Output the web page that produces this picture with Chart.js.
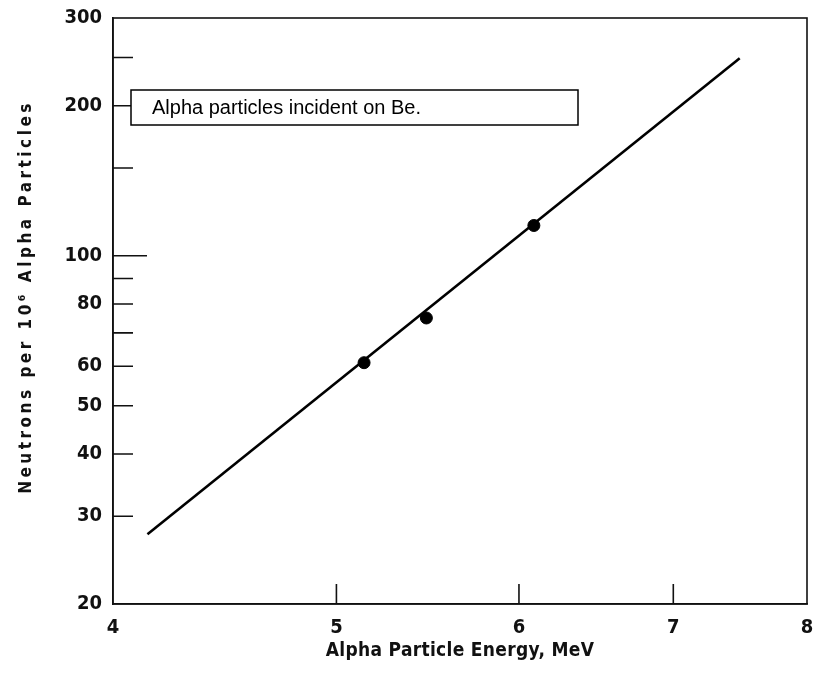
<!DOCTYPE html>
<html>
<head>
<meta charset="utf-8">
<script src="https://cdn.jsdelivr.net/npm/chart.js@4.4.1/dist/chart.umd.min.js"></script>
<style>
  html, body { margin: 0; padding: 0; background: #fff; overflow: hidden; }
</style>
</head>
<body>
<canvas id="chart" width="814" height="673"></canvas>
<script>
// measured points (alpha energy MeV, neutrons per 10^6 alphas)
const energies = [5.14, 5.47, 6.09];
const yields = [61, 75, 115];
// fitted straight line end points
const fitEnergies = [4.14, 7.48];
const fitYields = [27.6, 249];

const xTicks = [4, 5, 6, 7, 8];
const xMarks = [5, 6, 7];
const yTicks = [20, 30, 40, 50, 60, 80, 100, 200, 300];
const yMarks = [30, 40, 50, 60, 70, 80, 90, 100, 150, 200, 250];
const xTitle = "Alpha Particle Energy, MeV";
const yTitle = "Neutrons per 10\u2076 Alpha Particles";
const note = "Alpha particles incident on Be.";

const labelFont = "'DejaVu Sans Condensed', 'DejaVu Sans', sans-serif";

// inner tick marks, frame, axis titles and the note box
const extras = {
  id: "extras",
  afterDraw(chart) {
    const ctx = chart.ctx;
    const a = chart.chartArea;
    const x = chart.scales.x, y = chart.scales.y;
    ctx.save();
    ctx.strokeStyle = "#111";
    ctx.lineWidth = 1.6;
    ctx.strokeRect(a.left, a.top, a.right - a.left, a.bottom - a.top);
    ctx.beginPath();
    yMarks.forEach(v => {
      const py = y.getPixelForValue(v);
      const len = v === 100 ? 34 : 20;
      ctx.moveTo(a.left, py);
      ctx.lineTo(a.left + len, py);
    });
    xMarks.forEach(v => {
      const px = x.getPixelForValue(v);
      ctx.moveTo(px, a.bottom);
      ctx.lineTo(px, a.bottom - 20);
    });
    ctx.stroke();

    // axis titles, spaced out like the original
    ctx.fillStyle = "#111";
    ctx.textAlign = "center";
    ctx.textBaseline = "middle";
    ctx.font = "bold 19px " + labelFont;
    ctx.letterSpacing = "0.3px";
    ctx.fillText(xTitle, 460, 651);
    ctx.save();
    ctx.translate(27, 297);
    ctx.rotate(-Math.PI / 2);
    ctx.font = "bold 17px " + labelFont;
    ctx.letterSpacing = "3.5px";
    ctx.fillText(yTitle, 0, 0);
    ctx.restore();
    ctx.letterSpacing = "0px";

    // note box
    ctx.textAlign = "left";
    ctx.lineWidth = 1.5;
    ctx.strokeStyle = "#000";
    ctx.fillStyle = "#fff";
    ctx.fillRect(a.left + 18, a.top + 72, 447, 35);
    ctx.strokeRect(a.left + 18, a.top + 72, 447, 35);
    ctx.fillStyle = "#000";
    ctx.font = "20px 'Liberation Sans', Arial, sans-serif";
    ctx.fillText(note, a.left + 39, a.top + 90);
    ctx.restore();
  }
};

new Chart(document.getElementById("chart"), {
  type: "scatter",
  data: {
    datasets: [
      {
        label: "fit",
        data: fitEnergies.map((e, i) => ({x: e, y: fitYields[i]})),
        showLine: true,
        borderColor: "#000",
        borderWidth: 2.6,
        pointRadius: 0
      },
      {
        label: "measured",
        data: energies.map((e, i) => ({x: e, y: yields[i]})),
        backgroundColor: "#000",
        borderColor: "#000",
        pointRadius: 6
      }
    ]
  },
  options: {
    responsive: false,
    animation: false,
    layout: { padding: { top: 18, right: 5, left: 0, bottom: 0 } },
    plugins: { legend: { display: false }, tooltip: { enabled: false } },
    scales: {
      x: {
        type: "logarithmic",
        min: 4,
        max: 8,
        afterBuildTicks: s => { s.ticks = xTicks.map(v => ({value: v})); },
        afterFit: s => { s.height = 69; s.paddingLeft = 0; s.paddingRight = 0; },
        grid: { display: false, drawTicks: false },
        border: { display: true, color: "#111", width: 1.6 },
        ticks: {
          color: "#111",
          padding: 12,
          autoSkip: false,
          maxRotation: 0,
          font: { family: labelFont, size: 20, weight: "bold" },
          callback: v => String(v)
        }
      },
      y: {
        type: "logarithmic",
        min: 20,
        max: 300,
        afterBuildTicks: s => { s.ticks = yTicks.map(v => ({value: v})); },
        afterFit: s => { s.width = 113; s.paddingTop = 0; s.paddingBottom = 0; },
        grid: { display: false, drawTicks: false },
        border: { display: true, color: "#111", width: 1.6 },
        ticks: {
          color: "#111",
          padding: 11,
          autoSkip: false,
          font: { family: labelFont, size: 20, weight: "bold" },
          callback: v => String(v)
        }
      }
    }
  },
  plugins: [extras]
});
</script>
</body>
</html>
